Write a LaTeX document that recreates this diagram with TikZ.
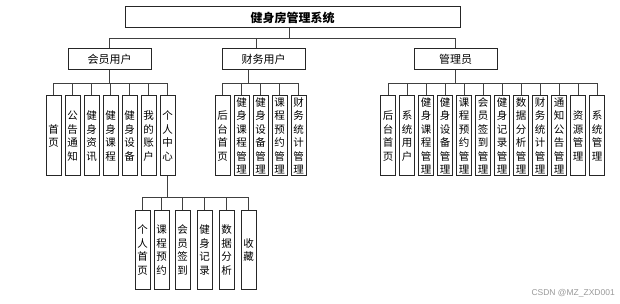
\documentclass[tikz,border=0pt]{standalone}
\usepackage{fontspec}
\newfontfamily\cjk{Noto Sans CJK SC}
\setmainfont{Liberation Sans}
\begin{document}
\begin{tikzpicture}[x=1pt,y=-1pt,
  hbox/.style={draw=black!85,line width=1pt,minimum width=83pt,minimum height=21pt,inner sep=0pt,font=\cjk\fontsize{11}{13}\selectfont},
  vbox/.style={draw=black!85,line width=1pt,minimum width=15pt,minimum height=80pt,inner sep=0pt,align=center,font=\cjk\fontsize{10.5}{13.5}\selectfont},
  pbox/.style={vbox,minimum height=78pt},
  conn/.style={draw=black!75,line width=0.8pt}]
\useasboundingbox (0,0) rectangle (620,304);
% title
\node[hbox,minimum width=335pt,font=\cjk\bfseries\fontsize{12}{14}\selectfont] (title) at (292.5,17.5) {健身房管理系统};
% level 2
\node[hbox] (member) at (109.5,59.5) {会员用户};
\node[hbox] (fin) at (263.5,59.5) {财务用户};
\node[hbox] (admin) at (455.5,59.5) {管理员};
\coordinate (thub) at ([xshift=-3pt]title.south);
\draw[conn] (thub) -- ++(0,10) -| (member.north);
\draw[conn] (thub) -- ++(0,10) -| ([xshift=-7.5pt]fin.north);
\draw[conn] (thub) -- ++(0,10) -| (admin.north);
% member children
\node[vbox] (m1) at (53.5,136) {首\\页};
\node[vbox] (m2) at (72.5,136) {公\\告\\通\\知};
\node[vbox] (m3) at (91.5,136) {健\\身\\资\\讯};
\node[vbox] (m4) at (110.5,136) {健\\身\\课\\程};
\node[vbox] (m5) at (129.5,136) {健\\身\\设\\备};
\node[vbox] (m6) at (148.5,136) {我\\的\\账\\户};
\node[vbox] (m7) at (167.5,136) {个\\人\\中\\心};
\foreach \c in {m1,m2,m3,m4,m5,m6,m7}
  \draw[conn] (member.south) -- ++(0,13) -| (\c.north);
% finance children
\node[vbox] (f1) at (222.5,136) {后\\台\\首\\页};
\node[vbox] (f2) at (241.5,136) {健\\身\\课\\程\\管\\理};
\node[vbox] (f3) at (260.5,136) {健\\身\\设\\备\\管\\理};
\node[vbox] (f4) at (279.5,136) {课\\程\\预\\约\\管\\理};
\node[vbox] (f5) at (298.5,136) {财\\务\\统\\计\\管\\理};
\foreach \c in {f1,f2,f3,f4,f5}
  \draw[conn] ([xshift=-15pt]fin.south) -- ++(0,13) -| (\c.north);
% admin children
\node[vbox] (a1) at (388,136) {后\\台\\首\\页};
\node[vbox] (a2) at (407,136) {系\\统\\用\\户};
\node[vbox] (a3) at (426,136) {健\\身\\课\\程\\管\\理};
\node[vbox] (a4) at (445,136) {健\\身\\设\\备\\管\\理};
\node[vbox] (a5) at (464,136) {课\\程\\预\\约\\管\\理};
\node[vbox] (a6) at (483,136) {会\\员\\签\\到\\管\\理};
\node[vbox] (a7) at (502,136) {健\\身\\记\\录\\管\\理};
\node[vbox] (a8) at (521,136) {数\\据\\分\\析\\管\\理};
\node[vbox] (a9) at (540,136) {财\\务\\统\\计\\管\\理};
\node[vbox] (a10) at (559,136) {通\\知\\公\\告\\管\\理};
\node[vbox] (a11) at (578,136) {资\\源\\管\\理};
\node[vbox] (a12) at (597,136) {系\\统\\管\\理};
\foreach \c in {a1,a2,a3,a4,a5,a6,a7,a8,a9,a10,a11,a12}
  \draw[conn] (admin.south) -- ++(0,13) -| (\c.north);
% personal center children
\node[pbox] (p1) at (142.5,250) {个\\人\\首\\页};
\node[pbox] (p2) at (161.5,250) {课\\程\\预\\约};
\node[pbox] (p3) at (182.5,250) {会\\员\\签\\到};
\node[pbox] (p4) at (204.5,250) {健\\身\\记\\录};
\node[pbox] (p5) at (226.5,250) {数\\据\\分\\析};
\node[pbox] (p6) at (248.5,250) {收\\藏};
\foreach \c in {p1,p2,p3,p4,p5,p6}
  \draw[conn] (m7.south) -- ++(0,21) -| (\c.north);
% watermark
\node[anchor=east,text=black!40,font=\fontsize{8.5}{10}\selectfont,inner sep=0pt] (wm) at (615,293) {CSDN @MZ\_ZXD001};
\end{tikzpicture}
\end{document}
